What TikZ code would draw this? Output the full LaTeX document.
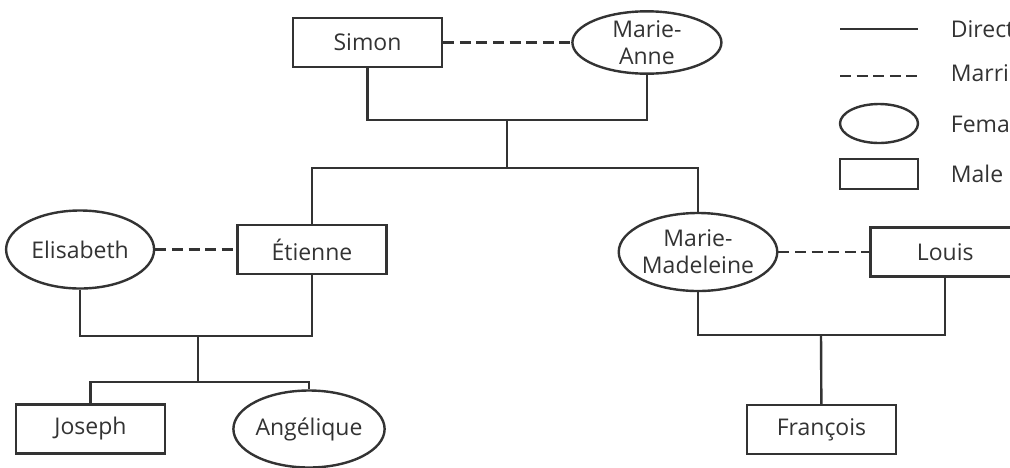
\documentclass[tikz,border=0pt]{standalone}
\usepackage{fontspec}
\setmainfont{Open Sans}
\usetikzlibrary{shapes.geometric,positioning}
\definecolor{ink}{HTML}{333333}

\begin{document}
\begin{tikzpicture}[x=0.5pt,y=-0.5pt,line width=1.2pt,draw=ink,
    every node/.style={text=ink,font=\fontsize{11.5}{13.5}\selectfont},
    male/.style={draw=ink,rectangle,inner sep=0pt,minimum width=74.5pt,minimum height=24.5pt},
    female/.style={draw=ink,ellipse,inner sep=0pt,align=center,minimum width=74pt,minimum height=39pt},
    marriage/.style={draw=ink,dash pattern=on 5.5pt off 2.8pt},
    descent/.style={draw=ink}]

                \useasboundingbox (0,0) rectangle (1010,467);
                \clip (0,0) rectangle (1010,467);

                % first generation
                \node[male] (simon) at (367.5,42.5) {Simon};
                \node[female,minimum width=74.5pt,minimum height=30.5pt] (marieanne) [right=64pt of simon] {Marie-\\Anne};

                % second generation
                \node[male] (etienne) at (312,249.5) {Étienne};
                \node[female] (elisabeth) [left=40.5pt of etienne] {Elisabeth};
                \node[female] (mariemad) at (698,252) {Marie-\\Madeleine};
                \node[male] (louis) [right=45.5pt of mariemad] {Louis};

                % third generation
                \node[male] (joseph) at (90.5,429) {Joseph};
                \node[female,minimum width=73pt,minimum height=38.5pt] (angelique) [right=33pt of joseph] {Angélique};
                \node[male] (francois) at (821.5,429.5) {François};

                \coordinate (top) at (507,120);
                \coordinate (topkids) at (507,168);
                \coordinate (eefam) at (198,336);
                \coordinate (eekids) at (198,382);
                \coordinate (mlfam) at (821,335);

                \path[marriage] (simon) edge (marieanne)
                                (elisabeth) edge (etienne)
                                (mariemad) edge (louis);

                \draw[descent] (simon) |- (top) -| (marieanne);
                \draw[descent] (top) -- (topkids);
                \draw[descent] (etienne) |- (topkids) -| (mariemad);
                \draw[descent] (elisabeth) |- (eefam) -| (etienne);
                \draw[descent] (eefam) -- (eekids);
                \draw[descent] (joseph) |- (eekids) -| (angelique);
                \draw[descent] (mariemad) |- (mlfam) -| (louis);
                \draw[descent] (mlfam) -- (francois);

                % key
                \coordinate (ka) at (840,29);
                \coordinate (kb) at (918,29);
                \coordinate (kc) at (840,76);
                \coordinate (kd) at (918,76);
                \node[female,minimum width=39pt,minimum height=19.5pt] (kfemale) at (879,123.5) {};
                \node[male,minimum width=39pt,minimum height=15pt] (kmale) at (879,174) {};
                \draw[descent] (ka) -- (kb);
                \draw[marriage] (kc) -- (kd);
                \node[anchor=west] (tdescent) at (943,29) {Direct descent};
                \node[anchor=west] (tmarriage) at (943,76) {Marriage};
                \node[anchor=west] (tfemale) at (943,123.5) {Female};
                \node[anchor=west] (tmale) at (943,174) {Male};

            \end{tikzpicture}
\end{document}
